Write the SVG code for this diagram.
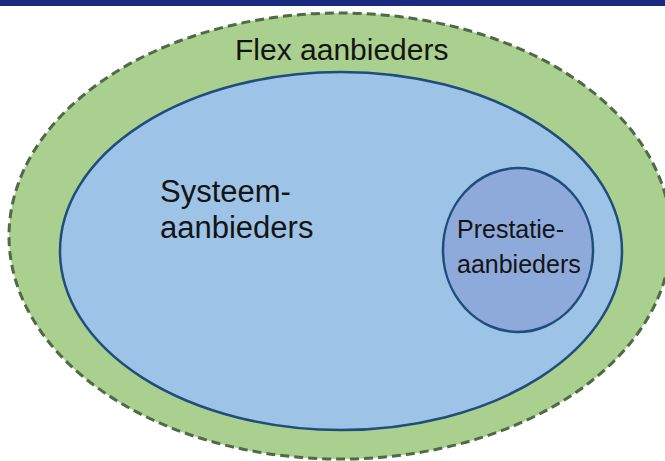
<svg xmlns="http://www.w3.org/2000/svg" width="665" height="461" viewBox="0 0 665 461">
<style>
text{font-family:"Liberation Sans",Arial,sans-serif;fill:#141414}
.ring{stroke:#1f4d7c;stroke-width:2.5}
</style>
<rect x="0" y="0" width="665" height="461" fill="#ffffff"/>
<rect x="0" y="0" width="665" height="6" fill="#18297f"/>
<g id="flex">
<ellipse cx="340" cy="236" rx="331" ry="223" fill="#a9d08e" stroke="#4f6a45" stroke-width="3" stroke-dasharray="9 5"/>
<text x="235" y="60" font-size="30">Flex aanbieders</text>
</g>
<g id="systeem">
<ellipse class="ring" cx="341" cy="251" rx="281" ry="179" fill="#9dc3e6"/>
<text x="160" y="202" font-size="31">Systeem-</text>
<text x="160" y="238" font-size="31">aanbieders</text>
</g>
<g id="prestatie">
<ellipse class="ring" cx="518" cy="250" rx="75" ry="82" fill="#8eaadb"/>
<text x="457" y="238" font-size="25">Prestatie-</text>
<text x="457" y="273" font-size="25">aanbieders</text>
</g>
<g id="connectors"/>
</svg>
